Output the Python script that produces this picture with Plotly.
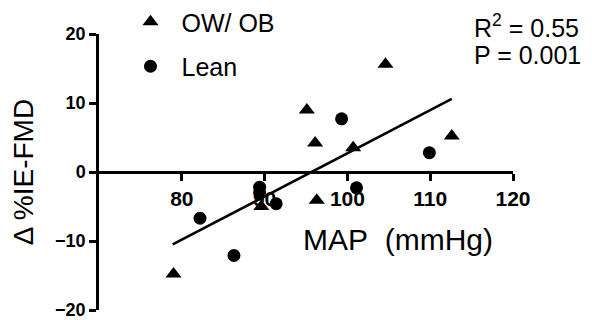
import plotly.graph_objects as go

# Data
ow_x = [79.0, 89.6, 95.1, 96.1, 96.3, 100.7, 104.6, 112.6]
ow_y = [-14.8, -5.0, 9.0, 4.2, -4.1, 3.5, 15.6, 5.2]
lean_x = [82.2, 86.3, 89.4, 89.4, 91.4, 99.3, 101.1, 109.9]
lean_y = [-6.7, -12.1, -2.2, -3.0, -4.6, 7.7, -2.3, 2.8]
fit_x = [78.9, 112.6]
fit_y = [-10.5, 10.6]
x_ticks = [80, 90, 100, 110, 120]
y_ticks = [-20, -10, 0, 10, 20]

FONT = "Arial, Liberation Sans, sans-serif"

# page has an 8px body margin, so the figure is laid out 8px up/left
W, H = 584, 320
ML, MR, MT, MB = 91, 79, 0, 18
PH = H - MT - MB  # 302
Y_TOP = 1 - 26 / PH  # top of y axis domain (paper fraction)

fig = go.Figure()
fig.add_trace(go.Scatter(x=fit_x, y=fit_y, mode="lines",
                         line=dict(color="black", width=2.5), showlegend=False,
                         hoverinfo="skip"))
fig.add_trace(go.Scatter(x=ow_x, y=ow_y, mode="markers", name="OW/ OB",
                         legendgroup="a",
                         marker=dict(symbol="triangle-up", size=14, color="black")))
fig.add_trace(go.Scatter(x=lean_x, y=lean_y, mode="markers", name="Lean",
                         legendgroup="b",
                         marker=dict(symbol="circle", size=13, color="black")))

fig.update_layout(
    width=W, height=H,
    margin=dict(l=ML, r=MR, t=MT, b=MB, autoexpand=False),
    plot_bgcolor="white", paper_bgcolor="white",
    font=dict(family=FONT, color="black"),
    showlegend=True,
    legend=dict(x=0.0495, y=1 + 9 / PH, xanchor="left", yanchor="top",
                font=dict(size=25, family=FONT), tracegroupgap=9,
                bgcolor="rgba(0,0,0,0)", itemwidth=52),
    xaxis=dict(range=[70, 120], tickvals=x_ticks, showgrid=False, zeroline=False,
               showline=True, linecolor="black", linewidth=2.5,
               ticks="outside", ticklen=7, tickwidth=2.5, tickcolor="black",
               tickfont=dict(size=21, family=FONT, weight="bold"),
               anchor="free", position=Y_TOP / 2, layer="below traces",
               automargin=False),
    yaxis=dict(range=[-20, 20], tickvals=y_ticks, showgrid=False, zeroline=False,
               domain=[0, Y_TOP],
               showline=True, linecolor="black", linewidth=2.5,
               ticks="outside", ticklen=7, tickwidth=2.5, tickcolor="black",
               tickfont=dict(size=18, family=FONT, weight="bold"),
               ticklabeloverflow="allow",
               title=dict(text="Δ %IE-FMD", font=dict(size=28, family=FONT), standoff=20),
               layer="below traces", automargin=False),
)

fig.add_annotation(x=106.1, y=-9.8, xref="x", yref="y", text="MAP\u00a0 (mmHg)",
                   showarrow=False, font=dict(size=30, family=FONT),
                   xanchor="center", yanchor="middle")
fig.add_annotation(x=(467 - ML) / 414, y=1 - 17.5 / PH, xref="paper", yref="paper",
                   text="R<sup>2</sup> = 0.55", align="left", borderpad=0,
                   showarrow=False, font=dict(size=25, family=FONT),
                   xanchor="left", yanchor="middle", xshift=-2)
fig.add_annotation(x=(467 - ML) / 414, y=1 - 47.5 / PH, xref="paper", yref="paper",
                   text="P = 0.001", align="left", borderpad=0,
                   showarrow=False, font=dict(size=25, family=FONT),
                   xanchor="left", yanchor="middle", xshift=-2)

fig.write_html("out.html")
